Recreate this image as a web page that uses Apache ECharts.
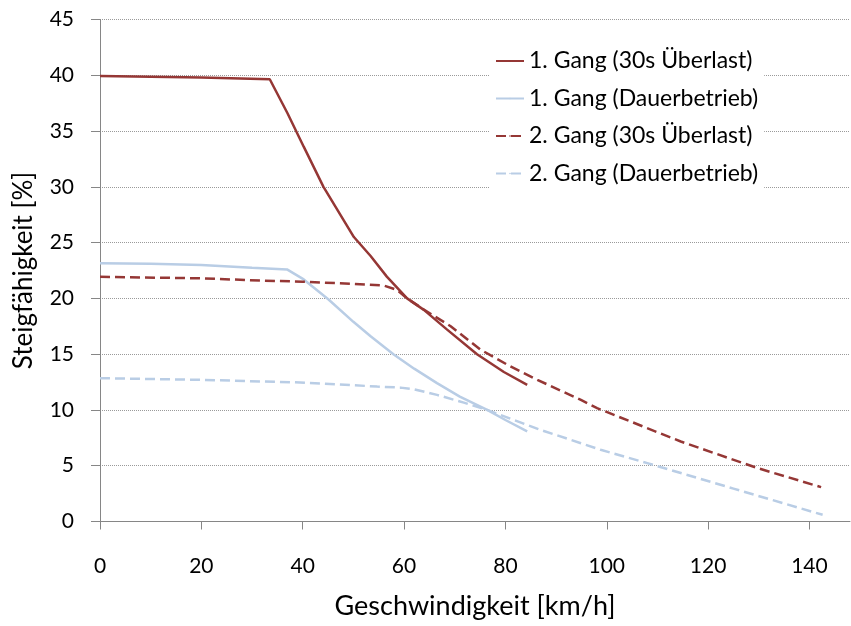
<!DOCTYPE html>
<html>
<head>
<meta charset="utf-8">
<script src="https://cdn.jsdelivr.net/npm/echarts@6/dist/echarts.min.js"></script>
<style>
  html, body { margin: 0; padding: 0; background: #fff; }
  #chart { width: 851px; height: 626px; }
</style>
</head>
<body>
<div id="chart"></div>
<script>
// Gang 1, 30s Ueberlast
const g1ueberX = [0, 10, 20, 33.5, 37, 40.2, 44.1, 50.1, 53.4, 56.6, 60.6, 63.9, 68.5, 74.4, 79.7, 84.3]
const g1ueberY = [39.93, 39.87, 39.8, 39.64, 36.6, 33.6, 30.0, 25.5, 23.8, 21.95, 20.0, 18.97, 17.2, 15.0, 13.4, 12.25]
// Gang 1, Dauerbetrieb
const g1dauerX = [0, 10, 20, 30, 36.9, 40.2, 45.1, 50, 53.4, 57.9, 62, 66.5, 71, 76.4, 80, 84.3]
const g1dauerY = [23.15, 23.1, 23.0, 22.75, 22.6, 21.7, 19.9, 17.9, 16.6, 15.0, 13.7, 12.4, 11.2, 10.0, 9.1, 8.07]
// Gang 2, 30s Ueberlast
const g2ueberX = [0, 20, 31.6, 40, 50, 56, 58.6, 60.6, 63.9, 69.2, 75.1, 81, 86.3, 94.9, 98.1, 114.6, 129.8, 142.3]
const g2ueberY = [21.93, 21.8, 21.6, 21.5, 21.3, 21.15, 20.76, 20.0, 19.0, 17.5, 15.4, 13.9, 12.7, 10.9, 10.16, 7.17, 4.78, 3.08]
// Gang 2, Dauerbetrieb
const g2dauerX = [0, 20, 39.5, 54.7, 59.3, 61.9, 66.5, 71.8, 76.4, 87, 94.9, 98.8, 108, 125, 142.6]
const g2dauerY = [12.85, 12.7, 12.46, 12.1, 12.0, 11.86, 11.35, 10.66, 10.0, 8.2, 7.02, 6.43, 5.23, 2.95, 0.6]

const seriesNames = ['1. Gang (30s Überlast)', '1. Gang (Dauerbetrieb)', '2. Gang (30s Überlast)', '2. Gang (Dauerbetrieb)']

const dunkelrot = '#953735'
const hellblau = '#B9CDE5'

function pairs (xs, ys) {
  let out = []
  for (let i = 0; i < xs.length; i++) {
    out.push([xs[i], ys[i]])
  }
  return out
}

function makeLine (name, data, color, dashed) {
  return {
    name: name,
    type: 'line',
    data: data,
    symbol: 'none',
    smooth: false,
    lineStyle: {
      color: color,
      width: 2.5,
      type: dashed ? [10, 5] : 'solid'
    },
    itemStyle: { color: color }
  }
}

const font = 'Lato, "Open Sans", sans-serif'
const grau = '#868686'

const myChart = echarts.init(document.getElementById('chart'), null, { renderer: 'canvas' })

myChart.setOption({
  animation: false,
  textStyle: { fontFamily: font },
  grid: {
    left: 100,
    right: 1,
    top: 19.5,
    bottom: 104.5,
    containLabel: false
  },
  legend: {
    orient: 'vertical',
    left: 489,
    top: 43,
    padding: [6, 6],
    backgroundColor: '#fff',
    itemWidth: 28,
    itemHeight: 2,
    itemGap: 13.5,
    textStyle: {
      fontFamily: font,
      fontSize: 23,
      color: '#000',
      lineHeight: 24
    },
    data: seriesNames
  },
  xAxis: {
    type: 'value',
    min: 0,
    max: 148,
    interval: 20,
    name: 'Geschwindigkeit [km/h]',
    nameLocation: 'middle',
    nameGap: 71,
    nameTextStyle: { fontFamily: font, fontSize: 27, color: '#000' },
    axisLine: { show: true, lineStyle: { color: grau, width: 1 } },
    axisTick: { show: true, length: 8, lineStyle: { color: grau } },
    axisLabel: {
      fontFamily: font,
      fontSize: 21,
      color: '#000',
      margin: 34,
      showMaxLabel: false
    },
    splitLine: { show: false }
  },
  yAxis: {
    type: 'value',
    min: 0,
    max: 45,
    interval: 5,
    name: 'Steigfähigkeit [%]',
    nameLocation: 'middle',
    nameGap: 63,
    nameTextStyle: { fontFamily: font, fontSize: 26, color: '#000' },
    axisLine: { show: true, lineStyle: { color: grau, width: 1 } },
    axisTick: { show: true, length: 9, lineStyle: { color: grau } },
    axisLabel: {
      fontFamily: font,
      fontSize: 21,
      color: '#000',
      margin: 26
    },
    splitLine: {
      show: true,
      lineStyle: { color: '#9A9A9A', type: [1, 1], width: 1 }
    }
  },
  series: [
    makeLine(seriesNames[0], pairs(g1ueberX, g1ueberY), dunkelrot, false),
    makeLine(seriesNames[1], pairs(g1dauerX, g1dauerY), hellblau, false),
    makeLine(seriesNames[2], pairs(g2ueberX, g2ueberY), dunkelrot, true),
    makeLine(seriesNames[3], pairs(g2dauerX, g2dauerY), hellblau, true)
  ]
})
</script>
</body>
</html>
